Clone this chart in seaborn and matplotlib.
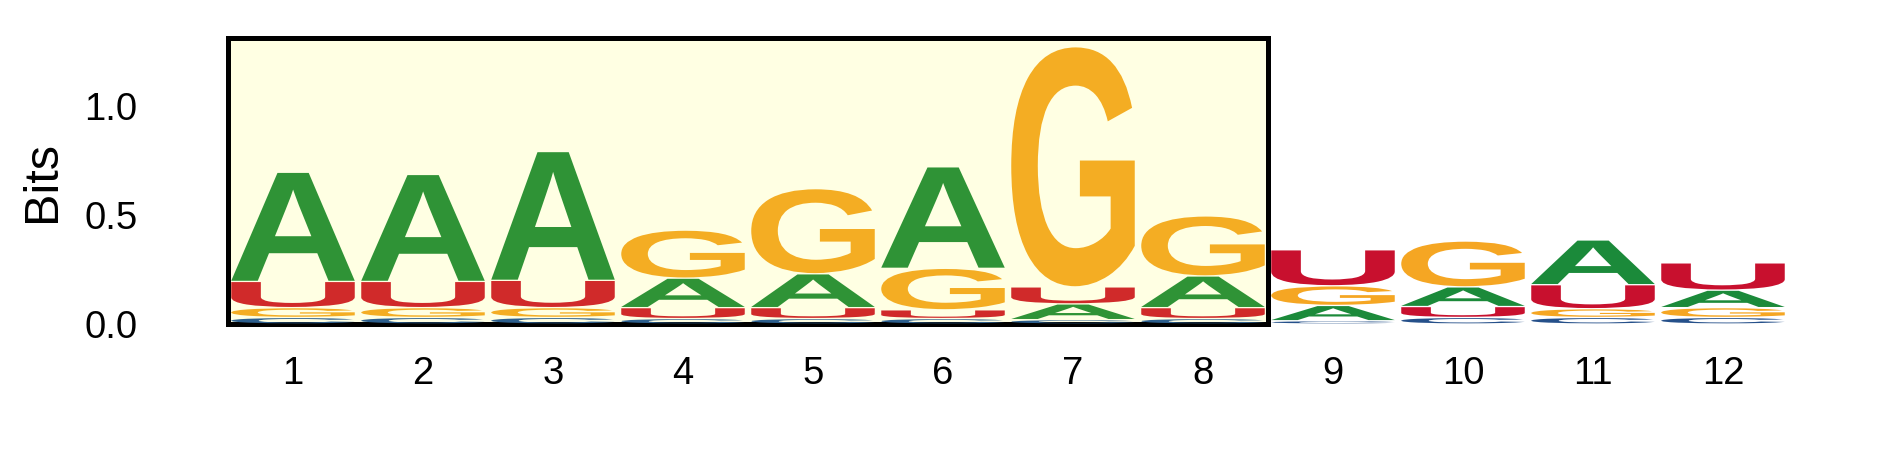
import numpy as np
import pandas as pd
import seaborn as sns
import matplotlib
matplotlib.use("Agg")
import matplotlib.pyplot as plt
from matplotlib.textpath import TextPath
from matplotlib.font_manager import FontProperties
from matplotlib.patches import PathPatch, Rectangle
from matplotlib.transforms import Affine2D

# ---- data (bits per nucleotide at each position) ----
positions = [1, 2, 3, 4, 5, 6, 7, 8, 9, 10, 11, 12]
tick_labels = [str(p) for p in positions]
A_vals = [0.500, 0.490, 0.590, 0.135, 0.155, 0.465, 0.072, 0.145, 0.070, 0.090, 0.205, 0.080]
C_vals = [0.030, 0.030, 0.030, 0.025, 0.025, 0.025, 0.020, 0.025, 0.015, 0.030, 0.030, 0.030]
G_vals = [0.045, 0.045, 0.045, 0.220, 0.390, 0.190, 1.100, 0.275, 0.090, 0.210, 0.040, 0.045]
U_vals = [0.120, 0.120, 0.125, 0.050, 0.050, 0.040, 0.078, 0.050, 0.165, 0.050, 0.110, 0.125]
highlight_range = [1, 8]
y_ticks = [0.0, 0.5, 1.0]

colors_in = {"A": "#2F9336", "C": "#2C5E8C", "G": "#F4AD23", "U": "#D02A2A"}
colors_out = {"A": "#1B8A3A", "C": "#25508A", "G": "#F5A623", "U": "#C8102E"}

df = pd.DataFrame({"A": A_vals, "C": C_vals, "G": G_vals, "U": U_vals}, index=positions)

sns.set_theme(style="white", rc={"text.color": "black", "axes.labelcolor": "black",
                                 "xtick.color": "black", "ytick.color": "black"})
plt.rcParams["font.family"] = ["Liberation Sans", "DejaVu Sans"]

fig = plt.figure(figsize=(18.89, 4.72), dpi=100)
ax = fig.add_axes([228 / 1889, 148 / 472, 1560 / 1889, 286 / 472])
ymax = 1.31
ax.set_xlim(0.5, 12.5)
ax.set_ylim(0, ymax)

fp = FontProperties(family="Liberation Sans", weight="bold")
glyphs = {ch: TextPath((0, 0), ch, size=1, prop=fp) for ch in "ACGU"}


def draw_letter(ch, xc, y0, h, w, color):
    tp = glyphs[ch]
    bb = tp.get_extents()
    tr = (Affine2D().translate(-bb.x0, -bb.y0)
          .scale(w / bb.width, h / bb.height)
          .translate(xc - w / 2, y0))
    patch = PathPatch(tr.transform_path(tp), facecolor=color, edgecolor="none",
                      transform=ax.transData, zorder=3)
    ax.add_patch(patch)


# highlight box
ax.add_patch(Rectangle((highlight_range[0] - 0.5, 0), highlight_range[1] - highlight_range[0] + 1, ymax,
                       facecolor="#FFFFE3", edgecolor="black", lw=3.6, zorder=1, clip_on=False))

width = 0.95
vpad = 0.006
for pos in positions:
    row = df.loc[pos].sort_values()
    pal = colors_in if highlight_range[0] <= pos <= highlight_range[1] else colors_out
    y = 0.0
    for ch, v in row.items():
        draw_letter(ch, pos, y + vpad / 2, v - vpad, width, pal[ch])
        y += v

ax.set_xticks(positions)
ax.set_xticklabels(tick_labels, fontsize=27.5, color="black")
ax.set_yticks(y_ticks)
ax.set_yticklabels([f"{t:.1f}" for t in y_ticks], fontsize=27.5, color="black")
ax.tick_params(axis="x", length=0, pad=23)
ax.tick_params(axis="y", length=0, pad=65)
ax.set_ylabel("Bits", fontsize=35, va="center", color="black")
ax.yaxis.set_label_coords(-0.1186, 0.5)
sns.despine(ax=ax, left=True, bottom=True)
ax.set_facecolor("white")

fig.savefig("out.png", dpi=100)
